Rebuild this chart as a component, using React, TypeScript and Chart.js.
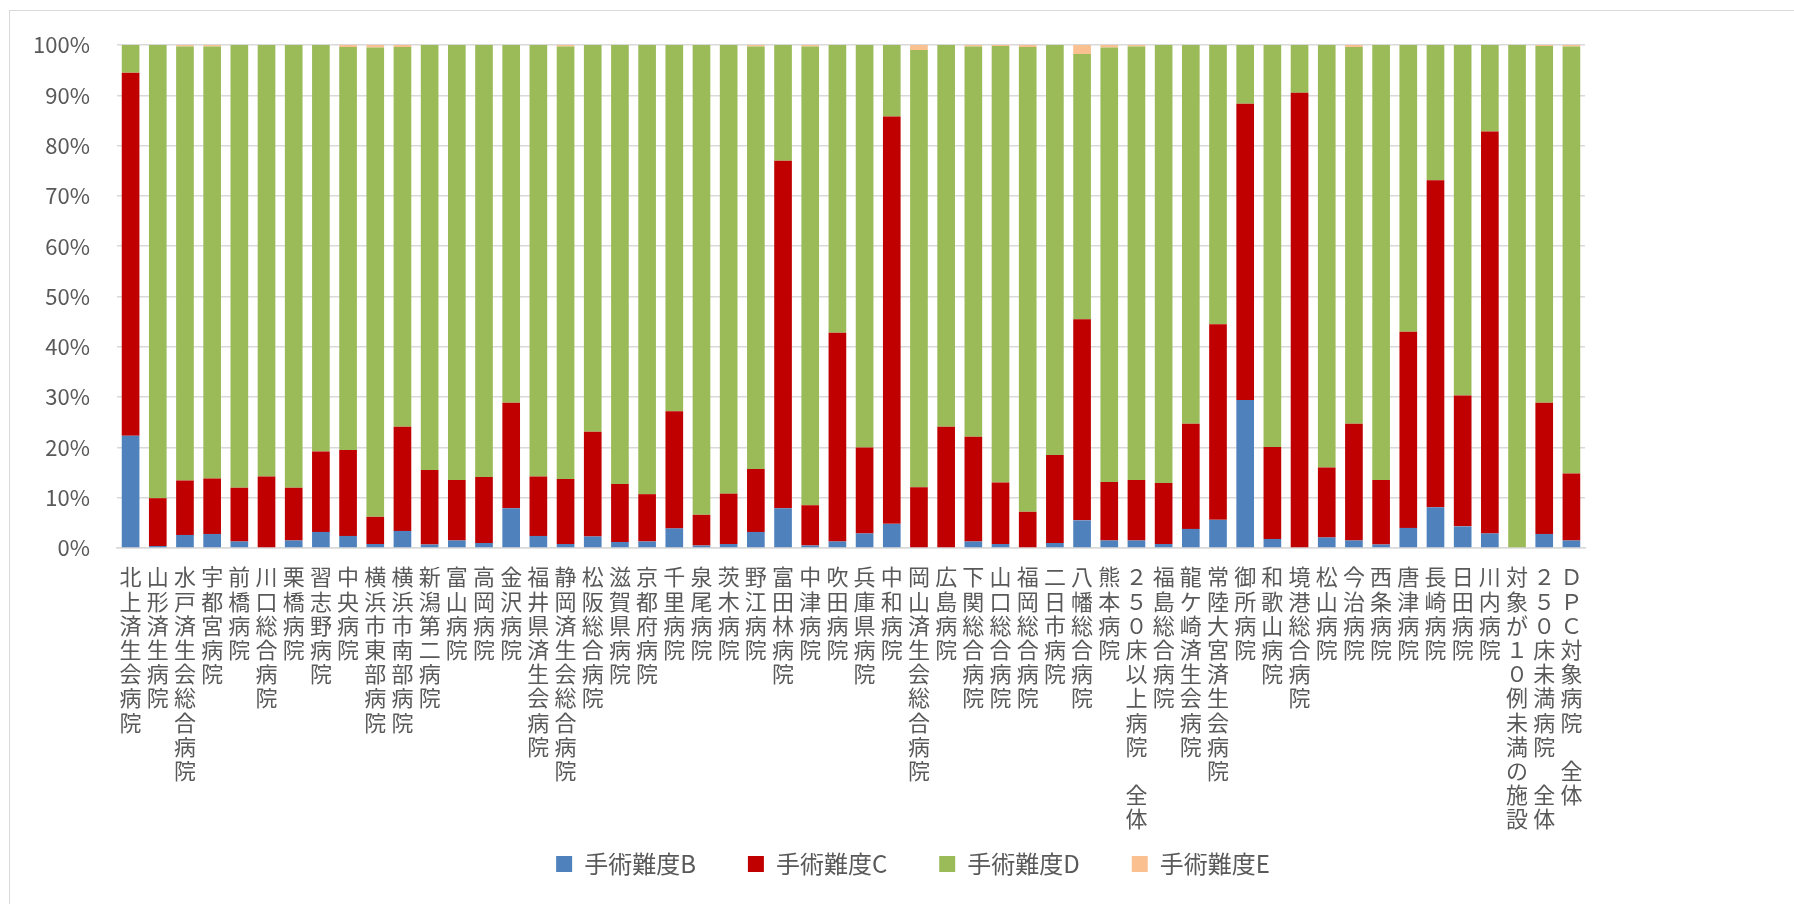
import React, { useEffect, useRef } from "react";
import { Chart, registerables } from "chart.js";

Chart.register(...registerables);

const hospitals: string[] = [
  "北上済生会病院", "山形済生病院", "水戸済生会総合病院", "宇都宮病院", "前橋病院",
  "川口総合病院", "栗橋病院", "習志野病院", "中央病院", "横浜市東部病院",
  "横浜市南部病院", "新潟第二病院", "富山病院", "高岡病院", "金沢病院",
  "福井県済生会病院", "静岡済生会総合病院", "松阪総合病院", "滋賀県病院", "京都府病院",
  "千里病院", "泉尾病院", "茨木病院", "野江病院", "富田林病院",
  "中津病院", "吹田病院", "兵庫県病院", "中和病院", "岡山済生会総合病院",
  "広島病院", "下関総合病院", "山口総合病院", "福岡総合病院", "二日市病院",
  "八幡総合病院", "熊本病院", "２５０床以上病院　全体", "福島総合病院", "龍ケ崎済生会病院",
  "常陸大宮済生会病院", "御所病院", "和歌山病院", "境港総合病院", "松山病院",
  "今治病院", "西条病院", "唐津病院", "長崎病院", "日田病院",
  "川内病院", "対象が１０例未満の施設", "２５０床未満病院　全体", "ＤＰＣ対象病院　全体",
];

const seriesNames: string[] = ["手術難度B", "手術難度C", "手術難度D", "手術難度E"];

const difficultyB: number[] = [
  22.3, 0.4, 2.6, 2.8, 1.3, 0, 1.5, 3.2, 2.4, 0.8,
  3.4, 0.7, 1.5, 1.0, 7.9, 2.4, 0.8, 2.3, 1.2, 1.3,
  3.9, 0.5, 0.8, 3.2, 7.9, 0.5, 1.3, 2.9, 4.8, 0,
  0, 1.3, 0.8, 0, 1.0, 5.5, 1.5, 1.5, 0.8, 3.8,
  5.6, 29.4, 1.8, 0, 2.1, 1.5, 0.7, 4.0, 8.1, 4.3,
  2.9, 0, 2.8, 1.5,
];

const difficultyC: number[] = [
  72.2, 9.5, 10.8, 11.0, 10.7, 14.2, 10.5, 16.0, 17.1, 5.4,
  20.7, 14.8, 12.0, 13.1, 21.0, 11.8, 12.9, 20.8, 11.5, 9.4,
  23.3, 6.1, 10.0, 12.5, 69.1, 8.0, 41.5, 17.1, 81.0, 12.1,
  24.1, 20.8, 12.2, 7.2, 17.5, 40.0, 11.6, 12.0, 12.1, 20.9,
  38.9, 58.9, 18.3, 90.5, 13.9, 23.2, 12.8, 39.0, 65.0, 26.0,
  79.9, 0, 26.1, 13.3,
];

const difficultyD: number[] = [
  5.5, 90.1, 86.3, 85.9, 88.0, 85.8, 88.0, 80.8, 80.1, 93.3,
  75.5, 84.5, 86.5, 85.9, 71.1, 85.8, 86.0, 76.9, 87.3, 89.3,
  72.8, 93.4, 89.2, 84.0, 23.0, 91.2, 57.2, 80.0, 14.2, 86.9,
  75.9, 77.6, 86.8, 92.4, 81.5, 52.7, 86.4, 86.2, 87.1, 75.3,
  55.5, 11.7, 79.9, 9.5, 84.0, 74.9, 86.5, 57.0, 26.9, 69.7,
  17.2, 100, 70.9, 84.9,
];

const difficultyE: number[] = [
  0, 0, 0.3, 0.3, 0, 0, 0, 0, 0.4, 0.5,
  0.4, 0, 0, 0, 0, 0, 0.3, 0, 0, 0,
  0, 0, 0, 0.3, 0, 0.3, 0, 0, 0, 1.0,
  0, 0.3, 0.2, 0.4, 0, 1.8, 0.5, 0.3, 0, 0,
  0, 0, 0, 0, 0, 0.4, 0, 0, 0, 0,
  0, 0, 0.2, 0.3,
];

const yTicks: number[] = [0, 10, 20, 30, 40, 50, 60, 70, 80, 90, 100];

const colors = ["#4F81BD", "#C00000", "#9BBB59", "#FAC090"];
const FONT = "'Noto Sans CJK JP', 'Noto Sans', sans-serif";
const TEXT = "#595959";
const GRID = "#D9D9D9";
const LEGEND_PAD = 52;
const LEGEND_FONT = 24;
const LEGEND_CENTER_Y = 864;

const legendLift = {
  id: "legendLift",
  afterLayout(chart: any) {
    const lg = chart.legend;
    if (!lg) return;
    const dy = lg.top + LEGEND_PAD + LEGEND_FONT / 2 - LEGEND_CENTER_Y;
    lg.top -= dy;
    lg.bottom -= dy;
  },
};

export default function App() {
  const ref = useRef<HTMLCanvasElement | null>(null);

  useEffect(() => {
    if (!ref.current) return;
    const values = [difficultyB, difficultyC, difficultyD, difficultyE];
    const chart = new Chart(ref.current, {
      type: "bar",
      data: {
        labels: hospitals.map((h) => Array.from(h)),
        datasets: seriesNames.map((name, i) => ({
          label: name,
          data: values[i],
          backgroundColor: colors[i],
          borderWidth: 0,
          categoryPercentage: 1,
          barPercentage: 0.65,
          yAxisID: "y",
        })),
      },
      plugins: [legendLift],
      options: {
        responsive: false,
        animation: false,
        devicePixelRatio: 1,
        layout: { padding: { left: 32, right: 0, top: 45, bottom: 0 } },
        plugins: {
          tooltip: { enabled: false },
          legend: {
            position: "bottom",
            labels: {
              boxWidth: 16,
              boxHeight: 16,
              padding: LEGEND_PAD,
              color: TEXT,
              font: { family: FONT, size: LEGEND_FONT },
            },
          },
        },
        scales: {
          x: {
            stacked: true,
            grid: { display: false, drawTicks: false },
            border: { display: true, color: GRID, width: 1.5 },
            ticks: {
              autoSkip: false,
              maxRotation: 0,
              minRotation: 0,
              padding: 17,
              color: TEXT,
              font: { family: FONT, size: 22, lineHeight: 1.1 },
            },
            afterFit: (s: any) => {
              s.height = 290;
            },
          },
          y: {
            stacked: true,
            min: 0,
            max: 100,
            afterBuildTicks: (s: any) => {
              s.ticks = yTicks.map((v) => ({ value: v }));
            },
            grid: { color: GRID, lineWidth: 1.5, drawTicks: false },
            border: { display: false },
            ticks: {
              padding: 27,
              color: TEXT,
              font: { family: FONT, size: 22 },
              callback: (v: any) => `${v}%`,
            },
            afterFit: (s: any) => {
              s.width = 85;
            },
          },
          y2: {
            position: "right",
            display: true,
            grid: { display: false, drawTicks: false },
            border: { display: false },
            ticks: { display: false },
            afterFit: (s: any) => {
              s.width = 209;
            },
          },
        },
      },
    });
    return () => chart.destroy();
  }, []);

  return (
    <>
      <div
        style={{
          position: "fixed",
          left: 9,
          top: 10,
          width: 3000,
          height: 3000,
          borderLeft: `1px solid ${GRID}`,
          borderTop: `1px solid ${GRID}`,
        }}
      />
      <div style={{ position: "fixed", left: 0, top: 0, width: 1794, height: 924 }}>
        <canvas ref={ref} width={1794} height={924} style={{ width: 1794, height: 924, display: "block" }} />
      </div>
    </>
  );
}
